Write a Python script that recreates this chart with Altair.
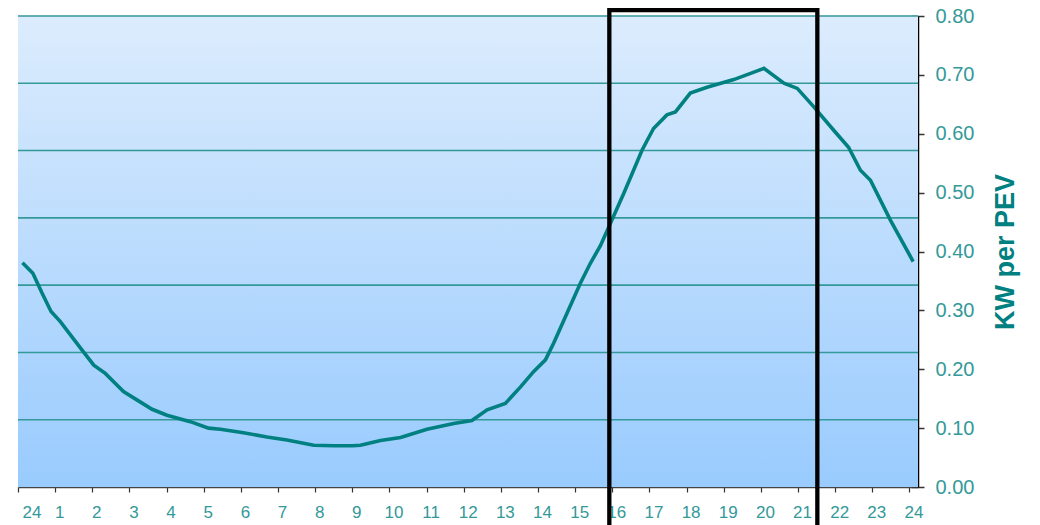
import altair as alt
import pandas as pd

# Hour of day (0 = midnight, shown as "24") and load per PEV (kW)
hours = [0.12, 0.40, 0.65, 0.89, 1.14, 1.72, 2.04, 2.35, 2.84, 3.20, 3.61, 4.01,
         4.64, 5.13, 5.45, 6.07, 6.70, 7.24, 7.96, 8.50, 9.00, 9.22, 9.76, 10.30,
         11.01, 11.73, 12.22, 12.63, 13.12, 13.53, 13.88, 14.20, 14.42, 14.78,
         15.14, 15.41, 15.68, 15.95, 16.31, 16.80, 17.11, 17.47, 17.70, 18.10,
         18.55, 19.27, 20.08, 20.62, 20.98, 21.42, 21.96, 22.36, 22.68, 22.95,
         23.49, 24.10]
kw_per_pev = [0.381, 0.363, 0.329, 0.298, 0.281, 0.233, 0.207, 0.193, 0.162, 0.148,
              0.132, 0.122, 0.111, 0.100, 0.098, 0.092, 0.085, 0.080, 0.071, 0.070,
              0.070, 0.071, 0.079, 0.084, 0.098, 0.108, 0.113, 0.131, 0.142, 0.170,
              0.196, 0.216, 0.244, 0.295, 0.346, 0.380, 0.410, 0.448, 0.499, 0.572,
              0.609, 0.632, 0.637, 0.669, 0.679, 0.692, 0.711, 0.686, 0.677, 0.646,
              0.606, 0.577, 0.538, 0.521, 0.453, 0.383]

x_ticks = list(range(0, 25))
y_ticks = [0.0, 0.1, 0.2, 0.3, 0.4, 0.5, 0.6, 0.7, 0.8]
grid_lines = [0.8 * k / 7 for k in range(1, 8)]   # chart's gridlines (7 bands)
highlight = {"start": [15.92], "end": [21.52], "top": [0.81], "bottom": [-0.1]}

X_DOMAIN = [0, 24.23]
Y_DOMAIN = [0, 0.8]
TEAL = "#008080"
LABEL = "#339999"
FONT = "Liberation Sans"

xscale = alt.Scale(domain=X_DOMAIN, nice=False, zero=False)
yscale = alt.Scale(domain=Y_DOMAIN, nice=False, zero=False)

xaxis = alt.Axis(
    values=x_ticks, labelExpr="datum.value == 0 ? '24' : datum.label",
    tickSize=5, tickColor="#333333", tickWidth=1.2, domainColor="#444444",
    domainWidth=1.5, labelColor=LABEL, labelFontSize=17, labelFont=FONT,
    labelPadding=12, labelOffset=4, grid=False, title=None)

line_df = pd.DataFrame({"h": hours, "v": kw_per_pev})
grid_df = pd.DataFrame({"g": grid_lines})
hl_df = pd.DataFrame(highlight)
bg_df = pd.DataFrame({"a": [0]})

bg = alt.Chart(bg_df).mark_rect(
    color=alt.LinearGradient(
        gradient="linear",
        stops=[alt.GradientStop(color="#dcecfd", offset=0),
               alt.GradientStop(color="#99cbfe", offset=1)],
        x1=0, x2=0, y1=0, y2=1,
    )
).encode(
    x=alt.X(datum=X_DOMAIN[0], type="quantitative", scale=xscale, axis=xaxis),
    x2=alt.X2(datum=X_DOMAIN[1]),
    y=alt.Y(datum=Y_DOMAIN[0], type="quantitative", scale=yscale, axis=None),
    y2=alt.Y2(datum=Y_DOMAIN[1]),
)

grid = alt.Chart(grid_df).mark_rule(color="#339999", strokeWidth=1.6).encode(
    y=alt.Y("g:Q", scale=yscale, axis=alt.Axis(
        orient="right", offset=-7, values=y_ticks, tickSize=7, tickColor="#333333",
        tickWidth=1.5, labels=False, domain=False, grid=False, title=None)),
)

line = alt.Chart(line_df).mark_line(color=TEAL, strokeWidth=3.6).encode(
    x=alt.X("h:Q", scale=xscale, axis=xaxis),
    y=alt.Y("v:Q", scale=yscale, axis=alt.Axis(
        orient="right", values=y_ticks, format=".2f", tickSize=6,
        tickColor="#333333", tickWidth=1.5, domainColor="#000000", domainWidth=1.5,
        labelColor=LABEL, labelFontSize=20, labelFont=FONT, labelPadding=11,
        grid=False, title="KW per PEV", titleAngle=270, titleBaseline="top",
        titleFontSize=27, titleFont=FONT, titleFontWeight="bold", titleColor=TEAL,
        titlePadding=19)),
)

box = alt.Chart(hl_df).mark_rect(fill="transparent", stroke="black", strokeWidth=4.3).encode(
    x=alt.X("start:Q", scale=xscale, axis=xaxis),
    x2="end:Q",
    y=alt.Y("top:Q", scale=yscale, axis=None),
    y2="bottom:Q",
)

chart = alt.layer(bg, grid, line, box).resolve_axis(y="independent").properties(
    width=900, height=471,
    autosize=alt.AutoSizeParams(type="none"),
    padding={"left": 10, "top": 8, "right": 114, "bottom": 38},
).configure_view(stroke=None)

chart.save("out.html", embed_options={"renderer": "svg", "actions": False})
